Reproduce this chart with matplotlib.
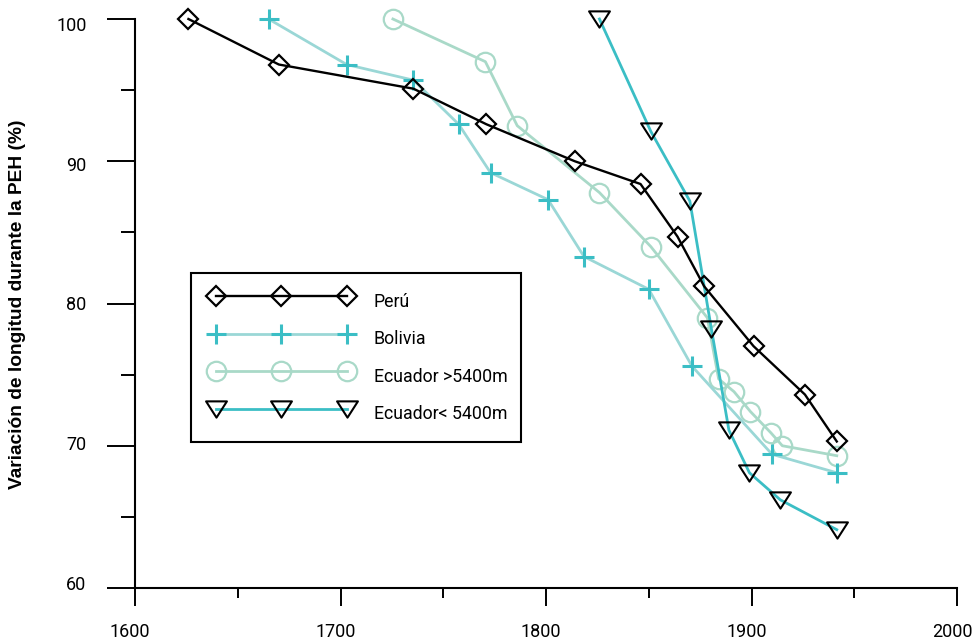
import matplotlib
matplotlib.use("Agg")
import matplotlib.pyplot as plt
import matplotlib.transforms as mtransforms
from matplotlib.path import Path
from matplotlib.ticker import MultipleLocator
from matplotlib.legend_handler import HandlerLine2D

plt.rcParams['font.family'] = ['Roboto', 'DejaVu Sans']

# ---- data ----
peru_x = [1626, 1670, 1735.5, 1771, 1814, 1846, 1864, 1877, 1901, 1926, 1941.5]
peru_y = [100, 96.8, 95.1, 92.6, 90.0, 88.4, 84.7, 81.2, 77.0, 73.6, 70.3]

bol_x = [1665, 1703, 1735.5, 1757.5, 1773, 1801, 1818.5, 1850, 1871, 1910, 1941.5]
bol_y = [100, 96.8, 95.7, 92.6, 89.2, 87.3, 83.3, 81.0, 75.6, 69.4, 68.1]

ecu_hi_x = [1725.5, 1770.5, 1786, 1826, 1851, 1878.5, 1884, 1891.5, 1899.5, 1909.5, 1915, 1941.5]
ecu_hi_y = [100, 97.0, 92.5, 87.8, 84.0, 79.0, 74.7, 73.8, 72.4, 70.9, 70.0, 69.3]

ecu_lo_x = [1826, 1851, 1870, 1880.5, 1889, 1899, 1914, 1941.5]
ecu_lo_y = [100, 92.1, 87.2, 78.2, 71.1, 68.1, 66.2, 64.1]

labels = ["Perú", "Bolivia", "Ecuador >5400m", "Ecuador< 5400m"]
xticks = [1600, 1700, 1800, 1900, 2000]
yticks = [60, 70, 80, 90, 100]

# ---- style ----
CYAN = "#3bbec5"
CYAN_LIGHT = "#9ad7d6"
GREEN_LIGHT = "#a9d9c8"
TICK_SIZE = 13
LEG_SIZE = 12.8
TEXT_WEIGHT = 'normal'

tri = Path([(-1, 0.78), (1, 0.78), (0, -0.78), (-1, 0.78)],
           [Path.MOVETO, Path.LINETO, Path.LINETO, Path.CLOSEPOLY])

fig = plt.figure(figsize=(9.74, 6.44), dpi=100)
ax = fig.add_axes([135 / 974, 56 / 644, (957 - 135) / 974, (588 - 19) / 644])

h_hi, = ax.plot(ecu_hi_x, ecu_hi_y, color=GREEN_LIGHT, lw=2.0, marker='o',
                ms=14, mfc='none', mec=GREEN_LIGHT, mew=1.6, clip_on=False,
                label=labels[2])
h_bol, = ax.plot(bol_x, bol_y, color=CYAN_LIGHT, lw=2.0, marker='+',
                 ms=15, mec=CYAN, mew=2.2, clip_on=False, label=labels[1])
h_lo, = ax.plot(ecu_lo_x, ecu_lo_y, color=CYAN, lw=2.0, marker=tri,
                ms=15, mfc='none', mec='black', mew=1.5, clip_on=False,
                label=labels[3])
h_peru, = ax.plot(peru_x, peru_y, color='black', lw=1.7, marker='D',
                  ms=10, mfc='none', mec='black', mew=1.6, clip_on=False,
                  label=labels[0])

ax.set_xlim(1600, 2000)
ax.set_ylim(60, 100)
ax.set_xticks(xticks)
ax.set_yticks(yticks)
ax.xaxis.set_minor_locator(MultipleLocator(50))
ax.yaxis.set_minor_locator(MultipleLocator(5))

for s in ['top', 'right']:
    ax.spines[s].set_visible(False)
for s in ['left', 'bottom']:
    ax.spines[s].set_linewidth(1.5)

ax.tick_params(axis='y', which='major', direction='out', length=20, width=1.4,
               pad=15, labelsize=TICK_SIZE)
ax.tick_params(axis='y', which='minor', direction='out', length=10, width=1.4)
ax.tick_params(axis='x', which='major', direction='out', length=13, width=1.4,
               pad=12, labelsize=TICK_SIZE)
ax.tick_params(axis='x', which='minor', direction='out', length=7, width=1.4)

# small label offsets as in the original artwork (pixels)
for lab in ax.get_xticklabels():
    lab.set_fontweight(TEXT_WEIGHT)
    lab.set_transform(lab.get_transform() +
                      mtransforms.ScaledTranslation(-5 / 100, 0, fig.dpi_scale_trans))
y_off = [4.5, 2.3, 0, -2.5, -5]
for lab, dy in zip(ax.get_yticklabels(), y_off):
    lab.set_fontweight(TEXT_WEIGHT)
    lab.set_transform(lab.get_transform() +
                      mtransforms.ScaledTranslation(0, dy / 100, fig.dpi_scale_trans))

fig.text(18 / 974, 1 - 304 / 644, "Variación de longitud durante la PEH (%)",
         rotation=90, ha='center', va='center', fontsize=13.8,
         fontweight='bold', family=['Liberation Sans', 'DejaVu Sans'])

leg = ax.legend(handles=[h_peru, h_bol, h_hi, h_lo], labels=labels,
                loc='upper left', bbox_to_anchor=(191 / 974, 1 - 273 / 644),
                bbox_transform=fig.transFigure, borderaxespad=0,
                numpoints=3, handlelength=8.72, handletextpad=0.84,
                handleheight=2.27, labelspacing=0.39, borderpad=0.73,
                prop={'size': LEG_SIZE, 'weight': TEXT_WEIGHT},
                fancybox=False, framealpha=1, edgecolor='black',
                handler_map={h: HandlerLine2D(marker_pad=0.675)
                             for h in [h_peru, h_bol, h_hi, h_lo]})
leg.get_frame().set_linewidth(1.5)

fig.savefig("out.png", dpi=100)
